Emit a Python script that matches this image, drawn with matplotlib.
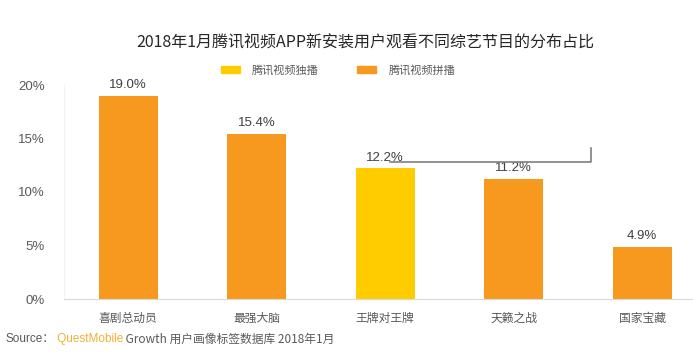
import matplotlib
matplotlib.use("Agg")
import matplotlib.pyplot as plt
from matplotlib.patches import Patch
from matplotlib.lines import Line2D

plt.rcParams['font.family'] = ['Noto Sans CJK SC', 'DejaVu Sans']
latin = ['Liberation Sans', 'Noto Sans CJK SC']

# Data
shows = ["喜剧总动员", "最强大脑", "王牌对王牌", "天籁之战", "国家宝藏"]
shares = [19.0, 15.4, 12.2, 11.2, 4.9]
exclusive = [False, False, True, False, False]
yTicks = [0, 5, 10, 15, 20]

yellow = "#FFCC00"
orange = "#F7991F"
grey = "#595959"

W, H = 693, 353
fig = plt.figure(figsize=(W/100, H/100), dpi=100)
fig.patch.set_facecolor("white")

# axes: x from 64px, one category per 128.5px (right side runs off the image)
ax = fig.add_axes([64/W, (H-299)/H, 5*128.5/W, 214/H])
colours = [yellow if e else orange for e in exclusive]
bars = ax.bar(range(len(shows)), shares, width=0.46, color=colours, zorder=2)
for b, v in zip(bars, shares):
  ax.text(b.get_x() + b.get_width()/2, v + 0.45, "%.1f%%" % v, ha="center", va="bottom",
          fontsize=9.5, color="#404040", family=latin)

ax.set_xlim(-0.5, len(shows) - 0.5)
ax.set_ylim(0, 20)
ax.set_yticks(yTicks)
ax.set_yticklabels([str(t) + "%" for t in yTicks], fontsize=9.5, color=grey, family=latin)
ax.set_xticks(range(len(shows)))
ax.set_xticklabels(shows, fontsize=8.5, color=grey)
ax.tick_params(length=0, pad=9)
ax.tick_params(axis="y", pad=14)
for s in ["top", "right"]:
  ax.spines[s].set_visible(False)
ax.spines["bottom"].set_color("#D9D9D9")
ax.spines["left"].set_color("#F2F2F2")

# Title and legend
fig.text(365/W, 1 - 43/H, "2018年1月腾讯视频APP新安装用户观看不同综艺节目的分布占比",
         ha="center", va="center", fontsize=11.5, color="#262626", fontweight="medium")
handles = [Patch(color=yellow, label="腾讯视频独播"), Patch(color=orange, label="腾讯视频拼播")]
fig.legend(handles=handles, loc="center", bbox_to_anchor=(338/W, 1 - 70/H), ncol=2,
           frameon=False, fontsize=8, labelcolor=grey, handlelength=1.7, handleheight=0.55,
           columnspacing=3.5, handletextpad=1.1)

# stray bracket seen in the screenshot
fig.add_artist(Line2D([390/W, 591/W, 591/W], [1 - 162/H, 1 - 162/H, 1 - 148/H],
                      color="#7F7F7F", lw=1.2))

# Source line, pieces placed one after another
src = fig.text(5/W, 1 - 339/H, "Source：", ha="left", va="center", fontsize=8.5, color=grey,
               family=latin)
qm = ax.annotate(" QuestMobile", xy=(1, 0.5), xycoords=src, ha="left", va="center",
                 fontsize=8.5, color="#F2B134", family=latin, annotation_clip=False)
ax.annotate(" Growth 用户画像标签数据库 2018年1月", xy=(1, 0.5), xycoords=qm, ha="left",
            va="center", fontsize=8.5, color=grey, annotation_clip=False)

fig.savefig("out.png", dpi=100, facecolor="white")
